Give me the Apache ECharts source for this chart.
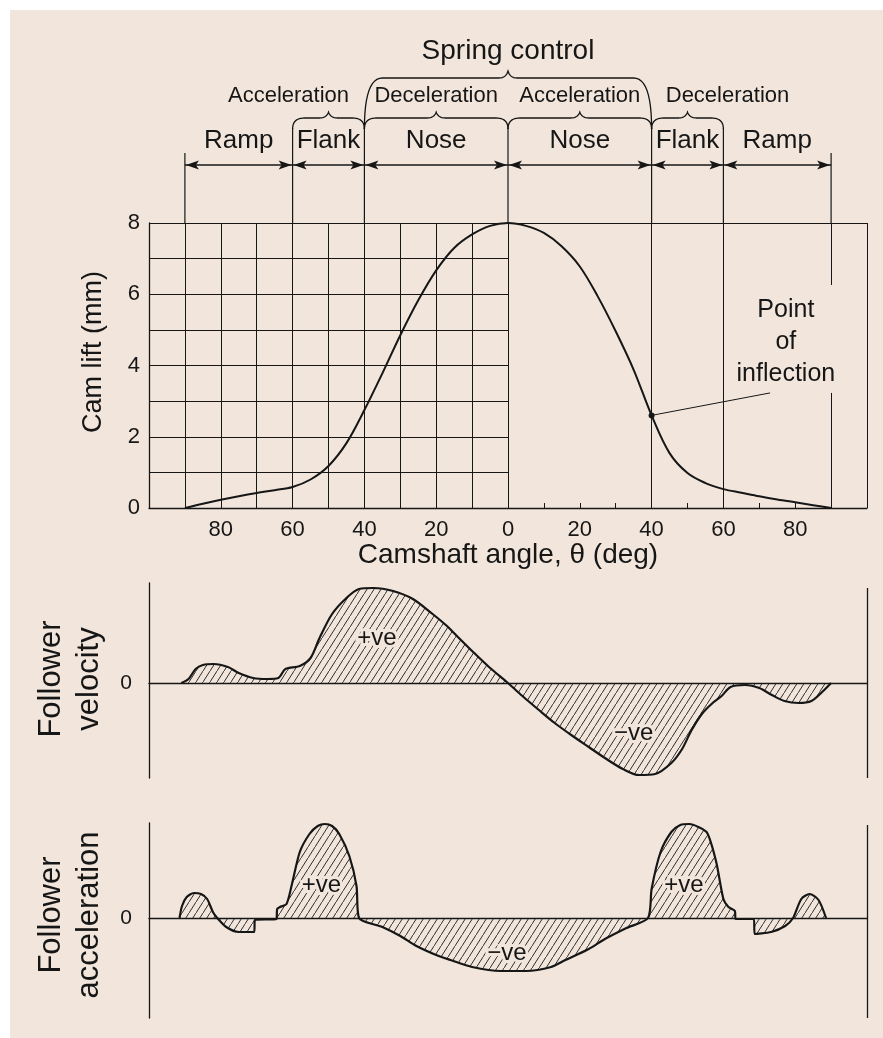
<!DOCTYPE html>
<html><head><meta charset="utf-8">
<script src="https://cdn.jsdelivr.net/npm/echarts@6/dist/echarts.min.js"></script>
<style>
html,body{margin:0;padding:0;background:#fff;}
#c{position:absolute;left:0;top:0;width:883px;height:1038px;
background: linear-gradient(#fff,#fff) 0 0/100% 10px no-repeat, linear-gradient(#fff,#fff) 0 0/10px 100% no-repeat, #f2e6dc;}
</style></head><body><div id="c"></div>
<script>
// ---- data ----
const camAngle = [-90,-85,-80,-75,-70,-65,-60,-55,-50,-45,-40,-35,-30,-25,-20,-15,-10,-5,0,5,10,15,20,25,30,35,40,45,50,55,60,65,70,75,80,85,90];
const camLift  = [0,0.12,0.23,0.33,0.42,0.5,0.59,0.8,1.18,1.82,2.75,3.78,4.85,5.83,6.67,7.3,7.68,7.92,8.0,7.92,7.72,7.34,6.78,5.94,4.96,3.88,2.6,1.54,0.98,0.7,0.53,0.43,0.33,0.24,0.16,0.08,0];

const velAngle = [-91,-89,-87,-85,-82,-78,-75,-71,-67,-64,-62,-58,-55,-52.5,-49,-45,-41.5,-37.5,-32,-26.5,-21,-17,-14.5,-10,-5.3,0,4,8.6,13,18,22.5,27,32,36.5,41,45.5,48.5,51,54,57,59.5,62,66,70,73.5,77,81,84.5,87.5,90];
const velValue = [0,4,14,18,19,16,10,5,4,5,14,17,25,45,69,85,94,95,92,84,69,57,48,32,16,0,-13,-27,-40,-53,-64,-75,-86,-92,-91,-80,-66,-48,-31,-20,-13,-4,-2,-5,-12,-18,-20,-18,-9,0];

const accAngle = [-91.5,-90.8,-89.5,-87.5,-85.5,-83.8,-82.2,-81,-78.5,-75,-70.7,-70.5,-64.5,-64.3,-63.5,-61.7,-60.3,-58,-55.3,-53,-51,-49,-47,-44.2,-42.2,-41.5,-35,-30,-25.5,-20,-16,-10,-2,5,12,16,22.5,27,33,39,40,42.5,45.5,48,50.5,53,55.5,58,60,61.4,63.2,63.4,68.5,68.7,73.3,77.2,79.4,81.7,84,86.5,88.6];
const accValue = [0,12,21,25,24,19,6,0,-9,-14,-14,-2,-1,9,11,14,32,66,84,92,94,92,84,62,32,0,-9,-18,-28,-37,-42,-49,-53,-53,-49,-42,-31,-21,-10,0,29,66,86,93,94,91,85,56,19,11,7,-1,-1,-16,-14,-8,0,19,24,18,0];

const liftGridLevels = [1,2,3,4,5,6,7];
const leftGridAngles = [-90,-80,-70,-60,-50,-40,-30,-20,-10,0];
const rightFullLines = [40,60];
const boundaries = [-90,-60,-40,0,40,60,90];
const segmentNames = ['Ramp','Flank','Nose','Nose','Flank','Ramp'];
const phaseNames = ['Acceleration','Deceleration','Acceleration','Deceleration'];
const controlName = 'Spring control';
const inflection = [40, 2.6];
const signLabels = [
  {grid:1, text:'+ve', at:[-36.5, 45]},
  {grid:1, text:'\u2212ve', at:[35, -50]},
  {grid:2, text:'+ve', at:[-52, 33]},
  {grid:2, text:'\u2212ve', at:[-0.3, -35]},
  {grid:2, text:'+ve', at:[49, 33]}
];

// ---- style ----
const ink = '#161616';
const paper = '#f2e6dc';
const F = '"Liberation Sans", Arial, Helvetica, sans-serif';

function hatch(){
  const w=7,h=11;
  const c=document.createElement('canvas'); c.width=w; c.height=h;
  const g=c.getContext('2d'); g.strokeStyle='rgba(25,25,25,0.9)'; g.lineWidth=1;
  for (const k of [-1,0,1]) { g.beginPath(); g.moveTo(0,h+k*h); g.lineTo(w,k*h); g.stroke(); }
  return c;
}
const pattern = {image: hatch(), repeat:'repeat'};

const seg = (a,b) => [{coord:a},{coord:b}];
const camLines = [];
liftGridLevels.forEach(v => camLines.push(seg([-100,v],[0,v])));
leftGridAngles.forEach(a => camLines.push(seg([a,0],[a,8])));
rightFullLines.forEach(a => camLines.push(seg([a,0],[a,8])));
camLines.push(seg([-100,8],[100,8]));
camLines.push(seg([100,0],[100,8]));
camLines.push(seg([90,0],[90,3.23]));
camLines.push(seg([90,6.26],[90,8]));
camLines.push(seg(inflection,[73,3.23]));

const mlBase = {silent:true, symbol:['none','none'], label:{show:false}, animation:false,
  lineStyle:{color:ink, width:1, type:'solid'}, emphasis:{disabled:true}};

const chart = echarts.init(document.getElementById('c'), null, {renderer:'canvas'});
const hideAxis = {show:false};
const panelY = (min,max,interval) => ({type:'value', min, max, interval,
  axisLine:{show:true, onZero:false, lineStyle:{color:ink, width:1.3}}, axisTick:hideAxis, splitLine:hideAxis,
  axisLabel:{formatter:v => v===0 ? '0' : '', fontSize:21, color:ink, margin:17, fontFamily:F}});
chart.setOption({
  animation:false,
  backgroundColor:'transparent',
  grid:[
    {left:149, top:223, width:718, height:285},
    {left:149, top:583, width:718, height:195},
    {left:149, top:823, width:718, height:195}
  ],
  xAxis:[
    {gridIndex:0, type:'value', min:-100, max:100, interval:20,
     axisLine:{show:true, onZero:false, lineStyle:{color:ink, width:1.3}},
     axisTick:{show:true, inside:true, length:5, lineStyle:{color:ink}},
     minorTick:{show:true, splitNumber:2, length:5, lineStyle:{color:ink}},
     splitLine:{show:false},
     axisLabel:{formatter:v => Math.abs(v)===100 ? '' : String(Math.abs(v)), fontSize:22, color:ink, margin:11, fontFamily:F}},
    {gridIndex:1, type:'value', min:-100, max:100, axisLine:{show:true, onZero:true, lineStyle:{color:ink, width:1.3}},
     axisTick:hideAxis, axisLabel:hideAxis, splitLine:hideAxis},
    {gridIndex:2, type:'value', min:-100, max:100, axisLine:{show:true, onZero:true, lineStyle:{color:ink, width:1.3}},
     axisTick:hideAxis, axisLabel:hideAxis, splitLine:hideAxis}
  ],
  yAxis:[
    {gridIndex:0, type:'value', min:0, max:8, interval:2,
     axisLine:{show:true, onZero:false, lineStyle:{color:ink, width:1.3}}, axisTick:hideAxis, splitLine:hideAxis,
     axisLabel:{fontSize:22, color:ink, margin:9, fontFamily:F}},
    Object.assign({gridIndex:1}, panelY(-95,100,95)),
    Object.assign({gridIndex:2}, panelY(-100,95,100))
  ],
  series:[
    {type:'line', xAxisIndex:0, yAxisIndex:0, data:camAngle.map((a,i)=>[a,camLift[i]]),
     smooth:0.35, showSymbol:false, lineStyle:{color:ink, width:2}, z:3,
     markLine:Object.assign({data:camLines}, mlBase),
     markPoint:{silent:true, symbol:'circle', symbolSize:6, itemStyle:{color:ink}, label:{show:false},
       data:[{coord:inflection}], animation:false}},
    {type:'line', xAxisIndex:1, yAxisIndex:1, data:velAngle.map((a,i)=>[a,velValue[i]]),
     smooth:0.3, showSymbol:false, lineStyle:{color:ink, width:2.2},
     areaStyle:{color:pattern, opacity:1, origin:0},
     markLine:Object.assign({data:[seg([100,-95],[100,95])]}, mlBase, {lineStyle:{color:ink,width:1.3,type:'solid'}})},
    {type:'line', xAxisIndex:2, yAxisIndex:2, data:accAngle.map((a,i)=>[a,accValue[i]]),
     smooth:0.25, showSymbol:false, lineStyle:{color:ink, width:2.2},
     areaStyle:{color:pattern, opacity:1, origin:0},
     markLine:Object.assign({data:[seg([100,-100],[100,93])]}, mlBase, {lineStyle:{color:ink,width:1.3,type:'solid'}})}
  ]
});

// ---- annotations positioned through the axes ----
const X = a => chart.convertToPixel({gridIndex:0}, [a,0])[0];
const plotTop = chart.convertToPixel({gridIndex:0}, [0,8])[1];
const g = [];
const txt = (x,y,text,size,extra) => Object.assign({type:'text', x, y, z:100,
  style:Object.assign({text, font:`${size}px ${F}`, fill:ink, align:'center', verticalAlign:'middle'}, extra||{})});
const bx = boundaries.map(X);
bx.forEach((x,i) => {
  const top = (i===0 || i===bx.length-1) ? 153 : 128;
  g.push({type:'line', z:50, shape:{x1:x, y1:top, x2:x, y2:plotTop}, style:{stroke:ink, lineWidth:1.2}});
});
const ay = 165;
for (let i=0;i<bx.length-1;i++){
  const a=bx[i], b=bx[i+1];
  g.push({type:'line', z:50, shape:{x1:a, y1:ay, x2:b, y2:ay}, style:{stroke:ink, lineWidth:1.3}});
  g.push({type:'polygon', z:50, shape:{points:[[a+1,ay],[a+14,ay-4.5],[a+11,ay],[a+14,ay+4.5]]}, style:{fill:ink}});
  g.push({type:'polygon', z:50, shape:{points:[[b-1,ay],[b-14,ay-4.5],[b-11,ay],[b-14,ay+4.5]]}, style:{fill:ink}});
  g.push(txt((a+b)/2, 141, segmentNames[i], 26));
}
function quad(p0,p1,p2,pts){
  for (let t=1;t<=12;t++){ const s=t/12, u=1-s;
    pts.push([u*u*p0[0]+2*u*s*p1[0]+s*s*p2[0], u*u*p0[1]+2*u*s*p1[1]+s*s*p2[1]]); }
}
function brace(x1,x2,yt,yb,rx,tip){
  const xm=(x1+x2)/2; const pts=[[x1,yb]];
  quad([x1,yb],[x1,yt],[x1+rx,yt],pts);
  pts.push([xm-9,yt]);
  quad([xm-9,yt],[xm-2,yt],[xm,yt-tip],pts);
  quad([xm,yt-tip],[xm+2,yt],[xm+9,yt],pts);
  pts.push([x2-rx,yt]);
  quad([x2-rx,yt],[x2,yt],[x2,yb],pts);
  return {type:'polyline', z:50, shape:{points:pts}, style:{stroke:ink, lineWidth:1.3, fill:null}};
}
const phaseShift = [-40,0,0,40];
for (let k=0;k<4;k++){
  const a=bx[k+1], b=bx[k+2];
  g.push(brace(a,b,118,129,12,6));
  g.push(txt((a+b)/2 + phaseShift[k], 96, phaseNames[k], 22));
}
g.push(brace(bx[2],bx[4],78,129,18,7));
g.push(txt(bx[3], 51, controlName, 28));

// titles
const cl = txt(94, 352, 'Cam lift (mm)', 27); cl.rotation = Math.PI/2; g.push(cl);
g.push(txt(X(0), 555, 'Camshaft angle, \u03b8 (deg)', 28));
const fv = txt(70, 679, 'Follower\nvelocity', 31, {lineHeight:38}); fv.rotation = Math.PI/2; g.push(fv);
const fa = txt(70, 915, 'Follower\nacceleration', 31, {lineHeight:38}); fa.rotation = Math.PI/2; g.push(fa);

// point of inflection text
const pi = chart.convertToPixel({gridIndex:0}, [77.4, 4.66]);
g.push(txt(pi[0], pi[1], 'Point\nof\ninflection', 25, {lineHeight:32}));

signLabels.forEach(s => {
  const p = chart.convertToPixel({gridIndex:s.grid}, s.at);
  g.push(txt(p[0], p[1], s.text, 24, {stroke:paper, lineWidth:6}));
});
chart.setOption({graphic:g});
</script></body></html>
